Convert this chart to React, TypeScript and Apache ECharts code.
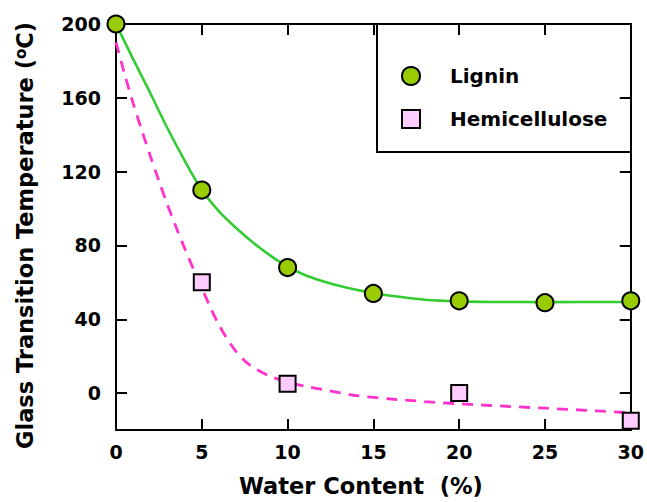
import React, { useEffect, useRef } from "react";
import * as echarts from "echarts";

const waterContent = [0, 5, 10, 15, 20, 25, 30];
const ligninTg = [200, 110, 68, 54, 50, 49, 50];
const hemiWater = [5, 10, 20, 30];
const hemiTg = [60, 5, 0, -15];

const ligninFitX = [0, 1, 2, 3, 4, 5, 6, 7, 8, 9, 10, 11, 12, 13, 14, 15, 16, 18, 20, 22, 25, 30];
const ligninFitY = [200, 181, 162.5, 143.5, 126, 110, 98.5, 89.5, 81.5, 74.5, 68.5, 64, 60.8, 58.2, 56, 54.2, 52.7, 50.6, 49.7, 49.4, 49.3, 49.4];
const hemiFitX = [0, 0.5, 1, 1.5, 2, 2.5, 3, 3.5, 4, 4.5, 5, 5.5, 6, 6.5, 7, 7.5, 8, 9, 10, 11, 12, 14, 16, 18, 20, 22, 25, 28, 30];
const hemiFitY = [190, 173, 157, 142.5, 128.5, 115, 102, 90, 78.5, 67.5, 57, 46.5, 37, 29, 22.5, 17.5, 13.8, 9, 6, 3.8, 2, -1.3, -3.2, -4.6, -5.8, -6.8, -8.2, -9.6, -10.7];

const yTickValues = [0, 40, 80, 120, 160, 200];

const FONT = "DejaVu Sans";

export default function App() {
  const ref = useRef<HTMLDivElement>(null);
  useEffect(() => {
    if (!ref.current) return;
    const chart = echarts.init(ref.current, null, { renderer: "svg" });
    const axisLine = { show: true, onZero: false, lineStyle: { color: "#000", width: 2 } };
    const tick = { show: true, inside: true, length: 11, lineStyle: { color: "#000", width: 2 } };
    const label = { color: "#000", fontFamily: FONT, fontWeight: "bold" as const, fontSize: 19 };
    chart.setOption({
      animation: false,
      backgroundColor: "#fff",
      grid: { left: 116, top: 24, width: 515, height: 408, containLabel: false },
      xAxis: [
        {
          type: "value", min: 0, max: 30, interval: 5, position: "bottom",
          axisLine, axisTick: tick, splitLine: { show: false },
          axisLabel: { ...label, margin: 12 },
          name: "Water Content  (%)", nameLocation: "middle", nameGap: 44,
          nameTextStyle: { color: "#000", fontFamily: FONT, fontWeight: "bold", fontSize: 22.5, padding: [0, 25, 0, 0] },
        },
        {
          type: "value", min: 0, max: 30, interval: 5, position: "top",
          axisLine, axisTick: tick, splitLine: { show: false }, axisLabel: { show: false },
        },
      ],
      yAxis: [
        {
          type: "value", min: -20, max: 200, interval: 20, position: "left",
          axisLine, axisTick: { ...tick, customValues: yTickValues }, splitLine: { show: false },
          axisLabel: { ...label, margin: 15, customValues: yTickValues },
          name: "Glass Transition Temperature ({sup|o}C)", nameLocation: "middle", nameGap: 80,
          nameTextStyle: {
            color: "#000", fontFamily: FONT, fontWeight: "bold", fontSize: 22.5, padding: [0, 17, 0, 0],
            rich: { sup: { fontFamily: FONT, fontWeight: "bold", fontSize: 15, color: "#000", verticalAlign: "top", padding: [0, 0, 8, 0] } },
          },
        },
        {
          type: "value", min: -20, max: 200, interval: 20, position: "right",
          axisLine, axisTick: { ...tick, customValues: yTickValues }, splitLine: { show: false }, axisLabel: { show: false },
        },
      ],
      legend: {
        orient: "vertical", left: 401, top: 66, padding: 0,
        itemWidth: 18, itemHeight: 18, itemGap: 23,
        data: ["Lignin", "Hemicellulose"],
        textStyle: { color: "#000", fontFamily: FONT, fontWeight: "bold", fontSize: 20, padding: [0, 0, 0, 25] },
      },
      graphic: [
        {
          type: "rect", shape: { x: 377, y: 24, width: 254, height: 128 },
          style: { fill: "none", stroke: "#000", lineWidth: 2 }, z: 10,
        },
      ],
      series: [
        {
          name: "Lignin fit", type: "line", smooth: 0.3, showSymbol: false, symbol: "none",
          data: ligninFitX.map((x, i) => [x, ligninFitY[i]]),
          lineStyle: { color: "#33cc33", width: 2.6 }, z: 2,
        },
        {
          name: "Hemicellulose fit", type: "line", smooth: 0.3, showSymbol: false, symbol: "none",
          data: hemiFitX.map((x, i) => [x, hemiFitY[i]]),
          lineStyle: { color: "#ff33cc", width: 2.8, type: [11, 8] }, z: 2,
        },
        {
          name: "Lignin", type: "scatter", symbol: "circle", symbolSize: 17,
          data: waterContent.map((x, i) => [x, ligninTg[i]]),
          itemStyle: { color: "#99cc00", borderColor: "#000", borderWidth: 2, opacity: 1 }, z: 5,
        },
        {
          name: "Hemicellulose", type: "scatter", symbol: "rect", symbolSize: 16,
          data: hemiWater.map((x, i) => [x, hemiTg[i]]),
          itemStyle: { color: "#ffccff", borderColor: "#000", borderWidth: 2, opacity: 1 }, z: 5,
        },
      ],
    });
    return () => chart.dispose();
  }, []);
  return <div ref={ref} style={{ position: "fixed", left: 0, top: 0, width: 647, height: 502 }} />;
}
